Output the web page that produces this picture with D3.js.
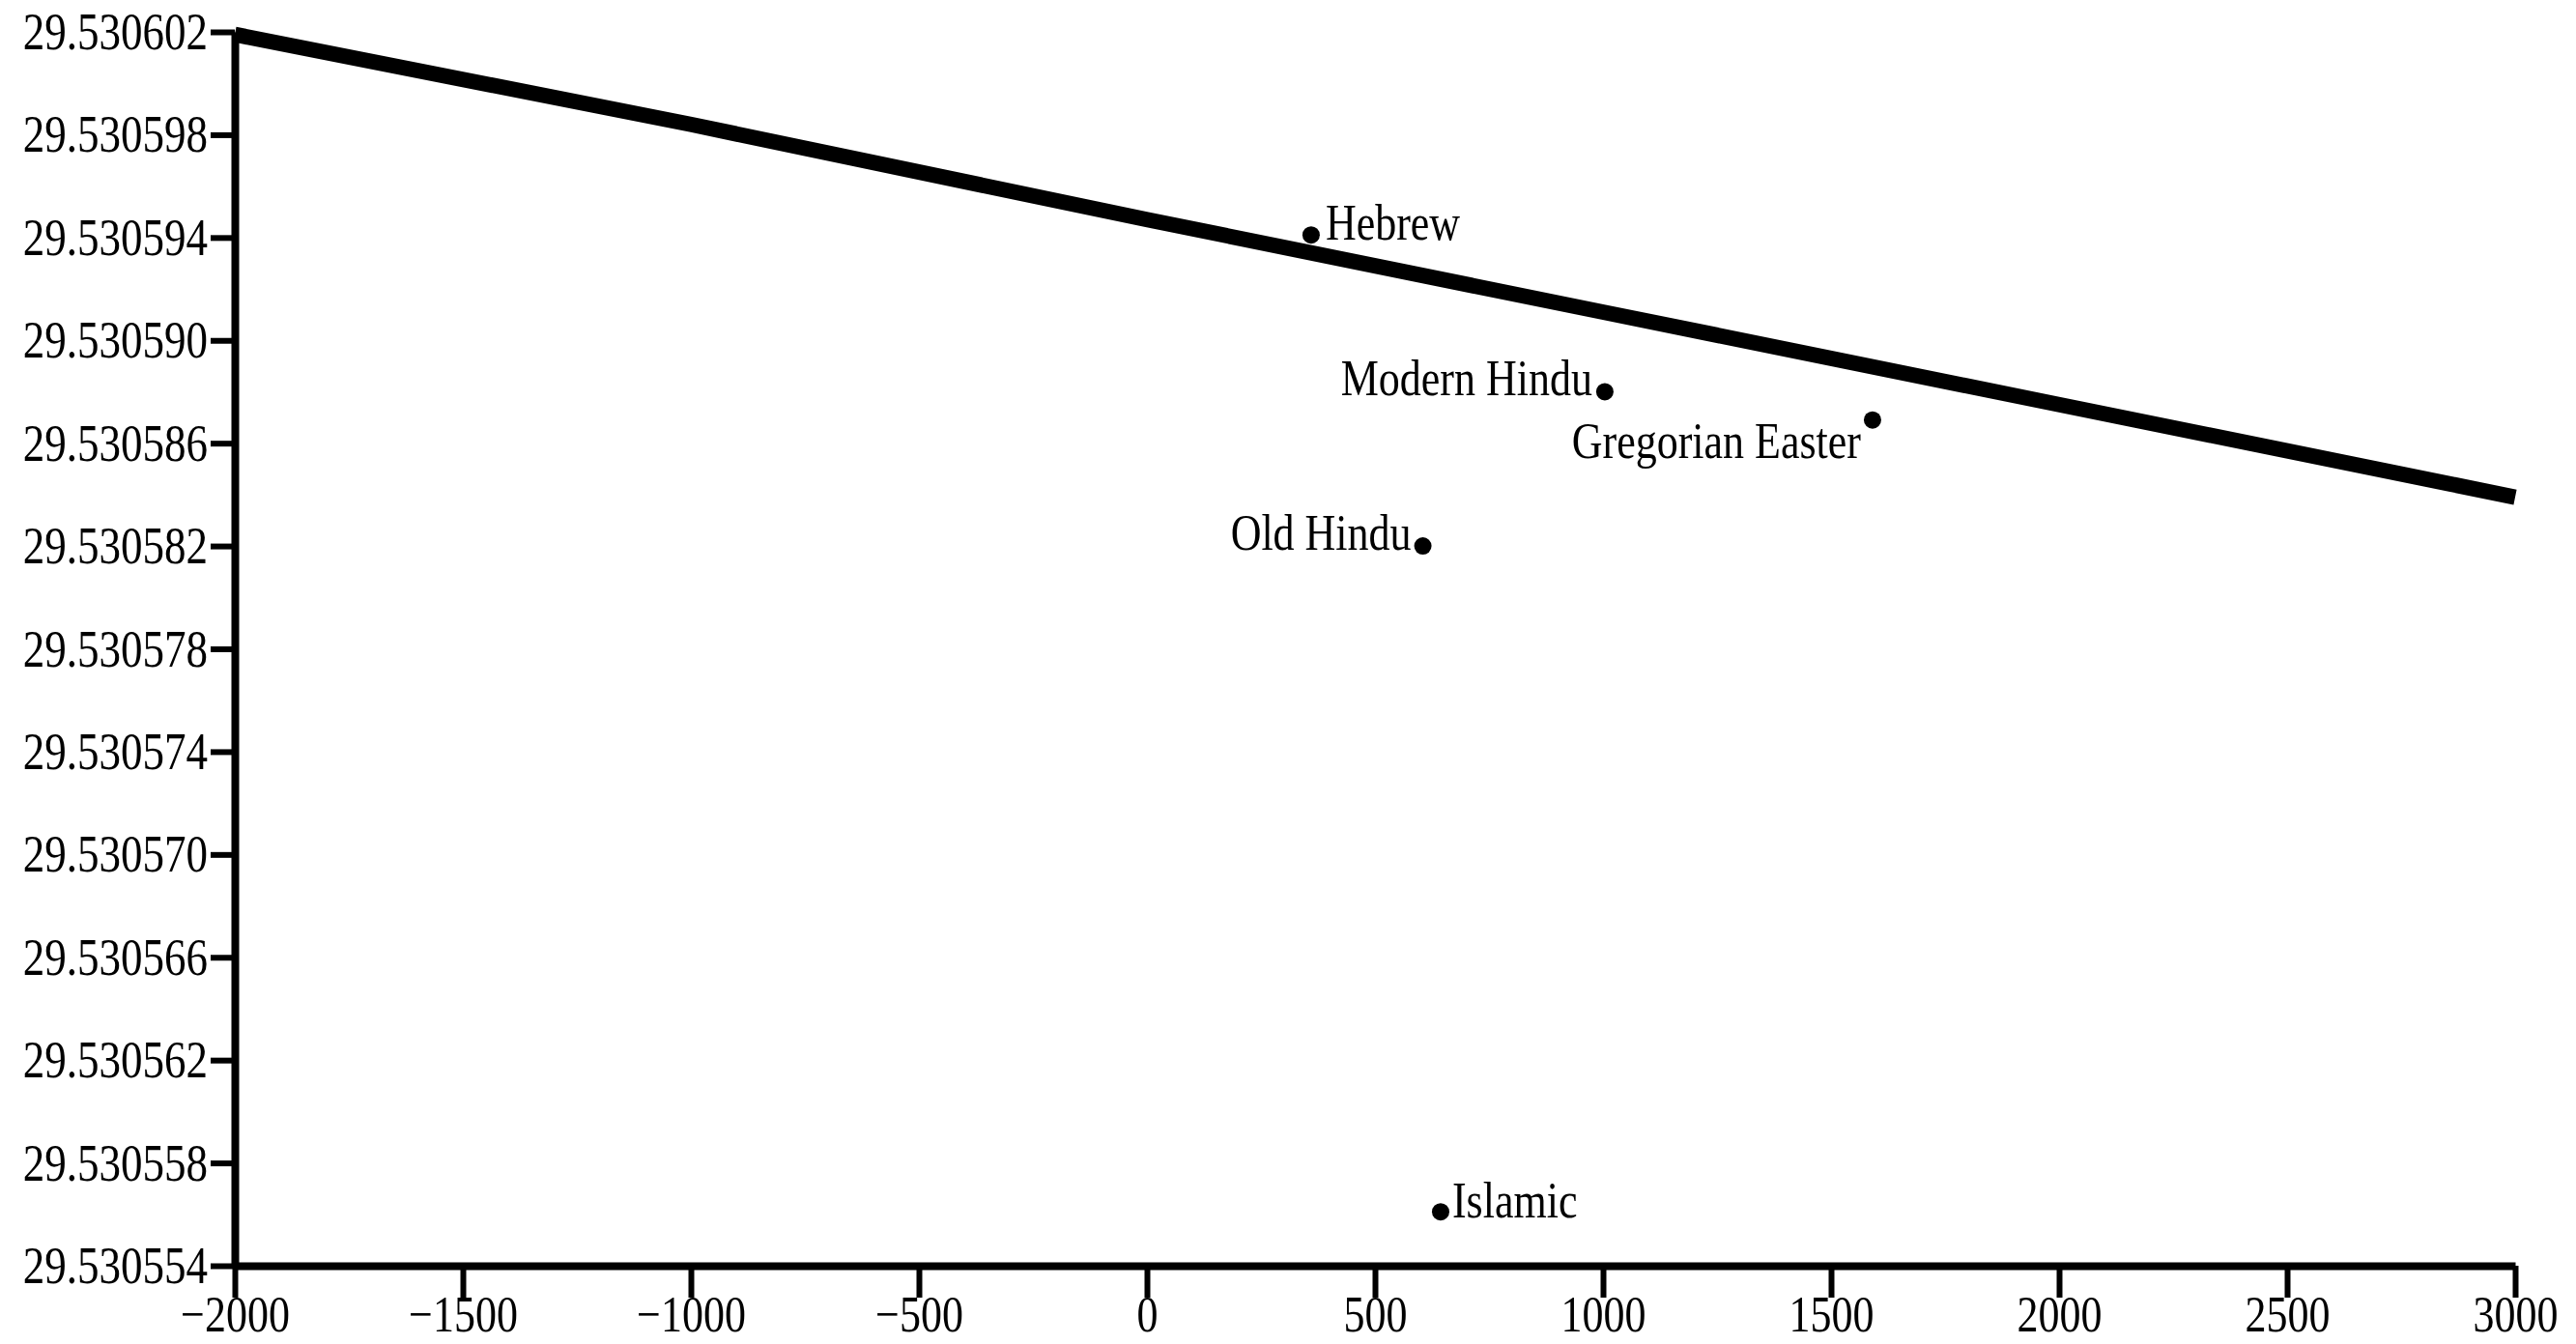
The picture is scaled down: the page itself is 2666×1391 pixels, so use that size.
<!DOCTYPE html>
<html>
<head>
<meta charset="utf-8">
<script src="https://cdn.jsdelivr.net/npm/d3@7"></script>
<style>
  html, body { margin: 0; padding: 0; background: #fff; }
  svg { display: block; }
  text { font-family: "Liberation Serif", "DejaVu Serif", serif; fill: #000; }
</style>
</head>
<body>
<svg id="chart" width="2666" height="1391"></svg>
<script>
// ---- data ----
const lineYears = [-2000, -1000, 0, 1000, 2000, 3000];
const lineValues = [29.5306019, 29.5305984, 29.5305947, 29.5305911, 29.5305875, 29.5305839];

const calendarNames = ["Hebrew", "Modern Hindu", "Gregorian Easter", "Old Hindu", "Islamic"];
const calendarYears = [360, 1004, 1591, 605, 644];
const calendarValues = [29.5305941, 29.530588, 29.5305869, 29.530582, 29.5305561];

const xTicks = [-2000, -1500, -1000, -500, 0, 500, 1000, 1500, 2000, 2500, 3000];
const yTicks = [29.530554, 29.530558, 29.530562, 29.530566, 29.530570, 29.530574,
                29.530578, 29.530582, 29.530586, 29.530590, 29.530594, 29.530598, 29.530602];

// ---- label styling (offsets from the dot, in px) ----
const labelStyle = {
  "Hebrew":           { anchor: "start", dx: 15,  dy: 5 },
  "Modern Hindu":     { anchor: "end",   dx: -13, dy: 4 },
  "Gregorian Easter": { anchor: "end",   dx: -12, dy: 39 },
  "Old Hindu":        { anchor: "end",   dx: -12, dy: 4 },
  "Islamic":          { anchor: "start", dx: 12,  dy: 6 }
};

const STRETCH = 1.2;
const svg = d3.select("#chart");

const x = d3.scaleLinear().domain([-2000, 3000]).range([243, 2603]);
const y = d3.scaleLinear().domain([29.530554, 29.530602]).range([1310, 33]);

// data line
const lineData = lineYears.map((d, i) => [d, lineValues[i]]);
svg.append("path")
  .datum(lineData)
  .attr("fill", "none")
  .attr("stroke", "#000")
  .attr("stroke-width", 16)
  .attr("d", d3.line().x(d => x(d[0])).y(d => y(d[1])));

// y axis
const yAxis = svg.append("g")
  .attr("transform", `translate(${x(-2000)},0)`)
  .call(d3.axisLeft(y).tickValues(yTicks).tickFormat(d3.format(".6f"))
        .tickSize(25).tickSizeOuter(0).tickPadding(3));
yAxis.select(".domain").attr("stroke-width", 8);
yAxis.selectAll(".tick line").attr("stroke-width", 6);
yAxis.selectAll(".tick text")
  .attr("font-size", 45)
  .attr("font-family", null)
  .attr("dy", 0)
  .attr("x", -28)
  .attr("y", 17.5 / STRETCH)
  .attr("transform", `scale(1,${STRETCH})`);

// x axis
const xAxis = svg.append("g")
  .attr("transform", `translate(0,${y(29.530554)})`)
  .call(d3.axisBottom(x).tickValues(xTicks).tickFormat(d3.format("d"))
        .tickSize(33).tickSizeOuter(0));
xAxis.select(".domain").attr("stroke-width", 8);
xAxis.selectAll(".tick line").attr("stroke-width", 6);
xAxis.selectAll(".tick text")
  .attr("font-size", 44)
  .attr("font-family", null)
  .attr("dy", 0)
  .attr("y", 68 / STRETCH)
  .attr("transform", `scale(1,${STRETCH})`);
svg.selectAll(".domain, .tick line").attr("stroke", "#000");

// calendar points
const pts = calendarNames.map((n, i) => ({ name: n, year: calendarYears[i], value: calendarValues[i] }));
svg.append("g").selectAll("circle")
  .data(pts).join("circle")
  .attr("cx", d => x(d.year))
  .attr("cy", d => y(d.value))
  .attr("r", 9)
  .attr("fill", "#000");

svg.append("g").selectAll("text")
  .data(pts).join("text")
  .attr("font-size", 44)
  .attr("text-anchor", d => labelStyle[d.name].anchor)
  .attr("transform", d => `translate(${x(d.year) + labelStyle[d.name].dx},${y(d.value) + labelStyle[d.name].dy}) scale(1,${STRETCH})`)
  .text(d => d.name);
</script>
</body>
</html>
